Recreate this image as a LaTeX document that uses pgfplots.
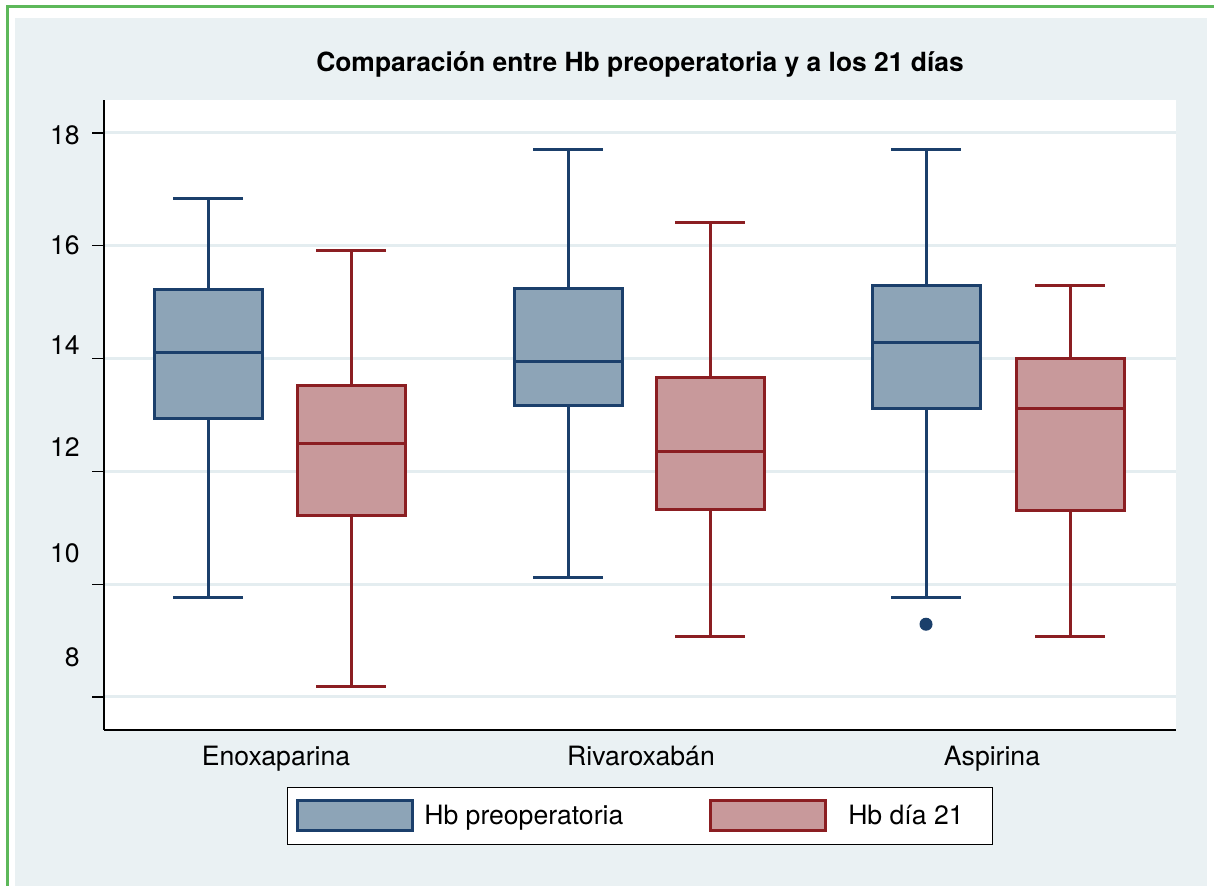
\documentclass[border=0pt]{standalone}
\usepackage{pgfplots}
\pgfplotsset{compat=1.18}
\usepgfplotslibrary{statistics}
\usepackage{fontspec}
\setmainfont{TeX Gyre Heros}
\definecolor{bgc}{HTML}{EAF1F3}
\definecolor{gridc}{HTML}{E4EDF0}
\definecolor{greenc}{HTML}{5DB85A}
\definecolor{preF}{HTML}{8DA4B7}
\definecolor{preB}{HTML}{1B3F6B}
\definecolor{d21F}{HTML}{C8999B}
\definecolor{d21B}{HTML}{8B1E22}
\begin{document}
\begin{tikzpicture}
\useasboundingbox (0pt,0pt) rectangle (607pt,443pt);
\fill[white] (0pt,0pt) rectangle (607pt,443pt);
\fill[bgc] (7.5pt,0pt) rectangle (603.5pt,434pt);
\draw[greenc,line width=1.5pt] (3.5pt,0pt) -- (3.5pt,439.5pt) -- (607pt,439.5pt);
\begin{axis}[
  at={(52pt,78pt)}, anchor=south west,
  scale only axis, width=536pt, height=315pt,
  xmin=0, xmax=10.72, ymin=7.415, ymax=18.585,
  axis x line*=bottom, axis y line*=left,
  axis line style={black, line width=0.6pt},
  axis background/.style={fill=white},
  font=\fontsize{13.3}{15}\selectfont,
  ytick={8,10,...,18}, yticklabels={},
  ymajorgrids, grid style={line width=1.5pt, gridc},
  tick align=outside, major tick length=6pt,
  ytick style={black, line width=0.6pt},
  xtick={1.72,5.37,8.88},
  xticklabels={Enoxaparina, Rivaroxabán, Aspirina},
  xtick style={draw=none},
  xticklabel style={anchor=base, yshift=-12pt},
  extra y ticks={17.96,16.01,14.24,12.43,10.55,8.71},
  extra y tick labels={18,16,14,12,10,8},
  extra y tick style={grid=none, major tick length=0pt, tick style={draw=none},
     yticklabel style={anchor=east, inner sep=0pt, xshift=-12pt}},
  title={\bfseries Comparación entre Hb preoperatoria y a los 21 días},
  title style={at={(0.5,1)}, anchor=center, yshift=12pt, font=\fontsize{13.2}{15}\selectfont},
  legend style={at={(0.5,0)}, anchor=north, yshift=-28.5pt, draw=black, line width=0.5pt,
     fill=white, inner xsep=4.25pt, inner ysep=6pt,
     font=\fontsize{13.3}{15}\selectfont,
     /tikz/every even column/.append style={column sep=41pt}},
  legend columns=2,
  boxplot/draw direction=y,
  preS/.style={draw=preB, fill=preF, line width=1.5pt, solid, mark=*, mark size=3pt,
     mark options={fill=preB, draw=preB, line width=0.5pt}},
  d21S/.style={draw=d21B, fill=d21F, line width=1.5pt, solid, mark=none},
  boxplot/box extend=1.08, boxplot/whisker extend=0.70,
]
\addlegendimage{legend image code/.code={\draw[line width=1.5pt, draw=preB, fill=preF] (0pt,-7.5pt) rectangle (57.5pt,7.5pt);}}
\addlegendimage{legend image code/.code={\draw[line width=1.5pt, draw=d21B, fill=d21F] (0pt,-7.5pt) rectangle (57.5pt,7.5pt);}}
% Enoxaparina
\addplot[preS, boxplot prepared={lower whisker=9.77, lower quartile=12.93, median=14.10, upper quartile=15.22, upper whisker=16.83, draw position=1.04}] coordinates {};
\addplot[d21S, boxplot prepared={lower whisker=8.18, lower quartile=11.21, median=12.49, upper quartile=13.53, upper whisker=15.91, draw position=2.47}] coordinates {};
% Rivaroxaban
\addplot[preS, boxplot prepared={lower whisker=10.11, lower quartile=13.16, median=13.94, upper quartile=15.25, upper whisker=17.70, draw position=4.64}] coordinates {};
\addplot[d21S, boxplot prepared={lower whisker=9.08, lower quartile=11.32, median=12.36, upper quartile=13.66, upper whisker=16.42, draw position=6.06}] coordinates {};
% Aspirina
\addplot[preS, boxplot prepared={lower whisker=9.77, lower quartile=13.12, median=14.29, upper quartile=15.30, upper whisker=17.70, draw position=8.22}] coordinates {(0,9.29)};
\addplot[d21S, boxplot prepared={lower whisker=9.08, lower quartile=11.30, median=13.11, upper quartile=14.01, upper whisker=15.30, draw position=9.66}] coordinates {};
\legend{\hspace{3pt}Hb preoperatoria, \hspace{8.5pt}Hb día 21\hspace{8pt}\mbox{}}
\end{axis}
\end{tikzpicture}
\end{document}
